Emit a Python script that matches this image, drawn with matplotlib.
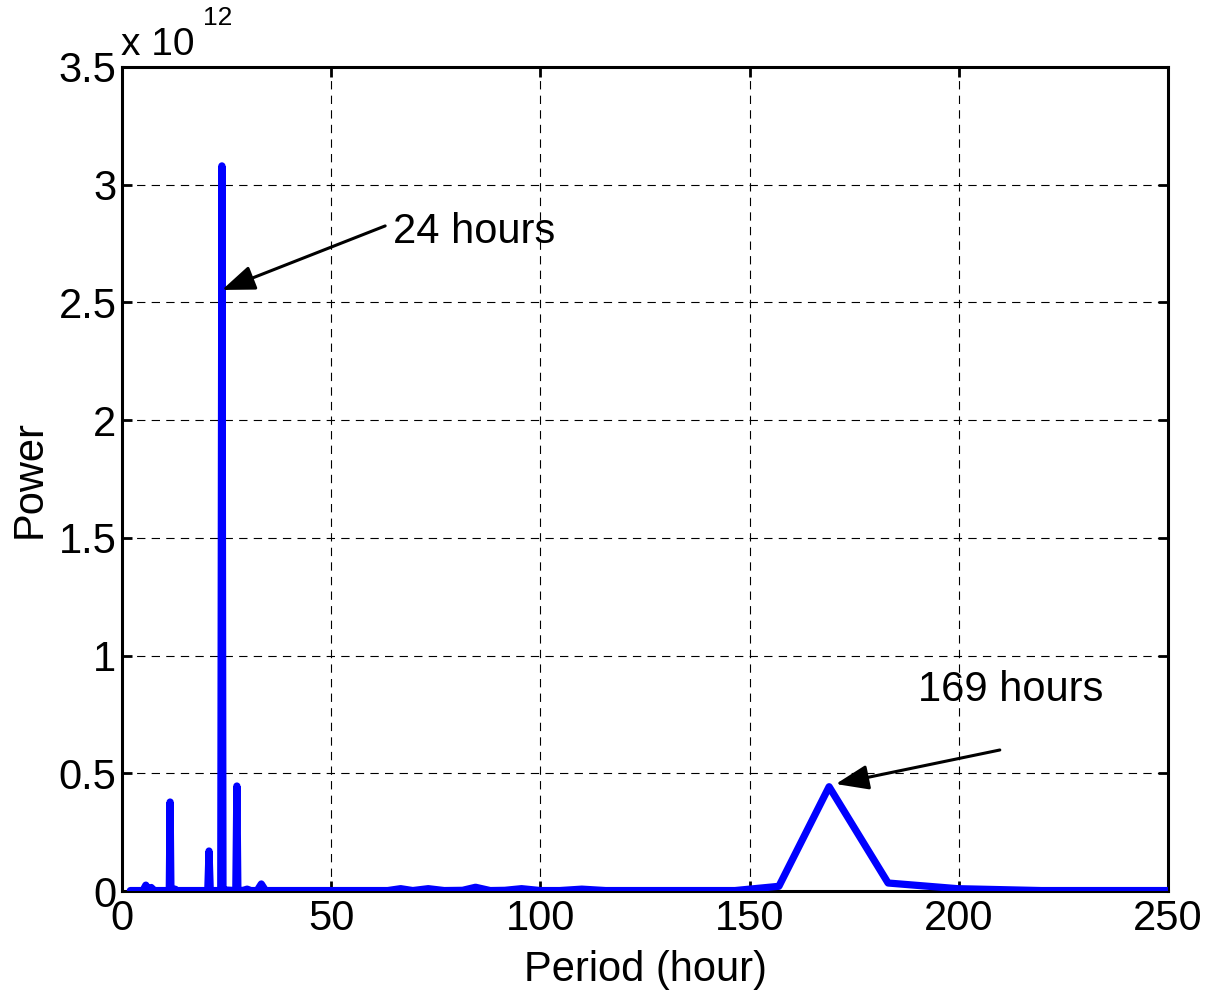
import numpy as np
import matplotlib
matplotlib.use("Agg")
import matplotlib.pyplot as plt

plt.rcParams['font.family'] = ['Liberation Sans', 'DejaVu Sans']
plt.rcParams['lines.scale_dashes'] = False

# periodogram values (power in units of 1e12)
period = [2.0, 5.0, 5.7, 6.4, 7.0, 7.6, 8.2, 11.3, 11.5, 11.7, 12.4, 12.7, 13.1,
          20.5, 20.8, 21.1, 23.6, 23.88, 24.14, 25.0, 27.2, 27.46, 27.7, 29.0,
          29.9, 30.8, 32.3, 33.3, 34.3, 40.0, 60.0, 63.5, 66.6, 69.5, 73.2,
          77.0, 81.4, 84.5, 88.0, 91.5, 95.5, 100.0, 104.6, 109.9, 115.6,
          146.5, 157.0, 169.0, 183.1, 199.7, 219.7, 244.1, 274.6]
power = [0.002, 0.002, 0.025, 0.002, 0.015, 0.003, 0.002, 0.002, 0.378, 0.002,
         0.002, 0.008, 0.002,
         0.002, 0.17, 0.002, 0.002, 3.08, 0.002, 0.004, 0.002, 0.446, 0.002,
         0.003, 0.008, 0.002, 0.002, 0.03, 0.002, 0.002, 0.002, 0.002, 0.01,
         0.002, 0.01, 0.002, 0.003, 0.016, 0.002, 0.003, 0.01, 0.002, 0.002,
         0.008, 0.002, 0.002, 0.02, 0.443, 0.034, 0.01, 0.002, 0.002, 0.002]

xticks = [0, 50, 100, 150, 200, 250]
yticks = [0, 0.5, 1, 1.5, 2, 2.5, 3, 3.5]
ytick_labels = ['0', '0.5', '1', '1.5', '2', '2.5', '3', '3.5']

fig = plt.figure(figsize=(12.09, 9.97), dpi=100, facecolor='white')
ax = fig.add_axes([0.1009, 0.1063, 0.8652, 0.8265])

ax.plot(period, power, color='#0000ff', lw=5.2, solid_joinstyle='round',
        solid_capstyle='round', zorder=3)

ax.set_xlim(0, 250)
ax.set_ylim(0, 3.5)
ax.set_xticks(xticks)
ax.set_yticks(yticks)
ax.set_yticklabels(ytick_labels)
ax.tick_params(direction='in', length=7, width=2, labelsize=30,
               top=True, right=True, pad=6)
ax.tick_params(axis='y', pad=4)
for s in ax.spines.values():
    s.set_linewidth(2.2)
ax.grid(True, color='k', lw=0.8, linestyle=(0, (6, 4.5)))
ax.set_axisbelow(True)

ax.set_xlabel('Period (hour)', fontsize=30, labelpad=8)
ax.set_ylabel('Power', fontsize=30, labelpad=6)

# MATLAB-style exponent label
fig.text(121 / 1209, 1 - 55 / 997, 'x 10', fontsize=28, ha='left', va='baseline')
fig.text(203 / 1209, 1 - 25 / 997, '12', fontsize=19, ha='left', va='baseline')

arrow = dict(arrowstyle='-|>,head_length=1.0,head_width=0.38', color='k',
             lw=2.2, shrinkA=0, shrinkB=0, mutation_scale=20)
ax.annotate('', xy=(23.9, 2.553), xytext=(62.9, 2.825), arrowprops=arrow)
ax.text(64.8, 2.80, '24 hours', fontsize=30, ha='left', va='center')
ax.annotate('', xy=(170.6, 0.4545), xytext=(209.8, 0.599), arrowprops=arrow)
ax.text(212.5, 0.854, '169 hours', fontsize=30, ha='center', va='center')

fig.savefig('out.png', dpi=100, facecolor='white')
